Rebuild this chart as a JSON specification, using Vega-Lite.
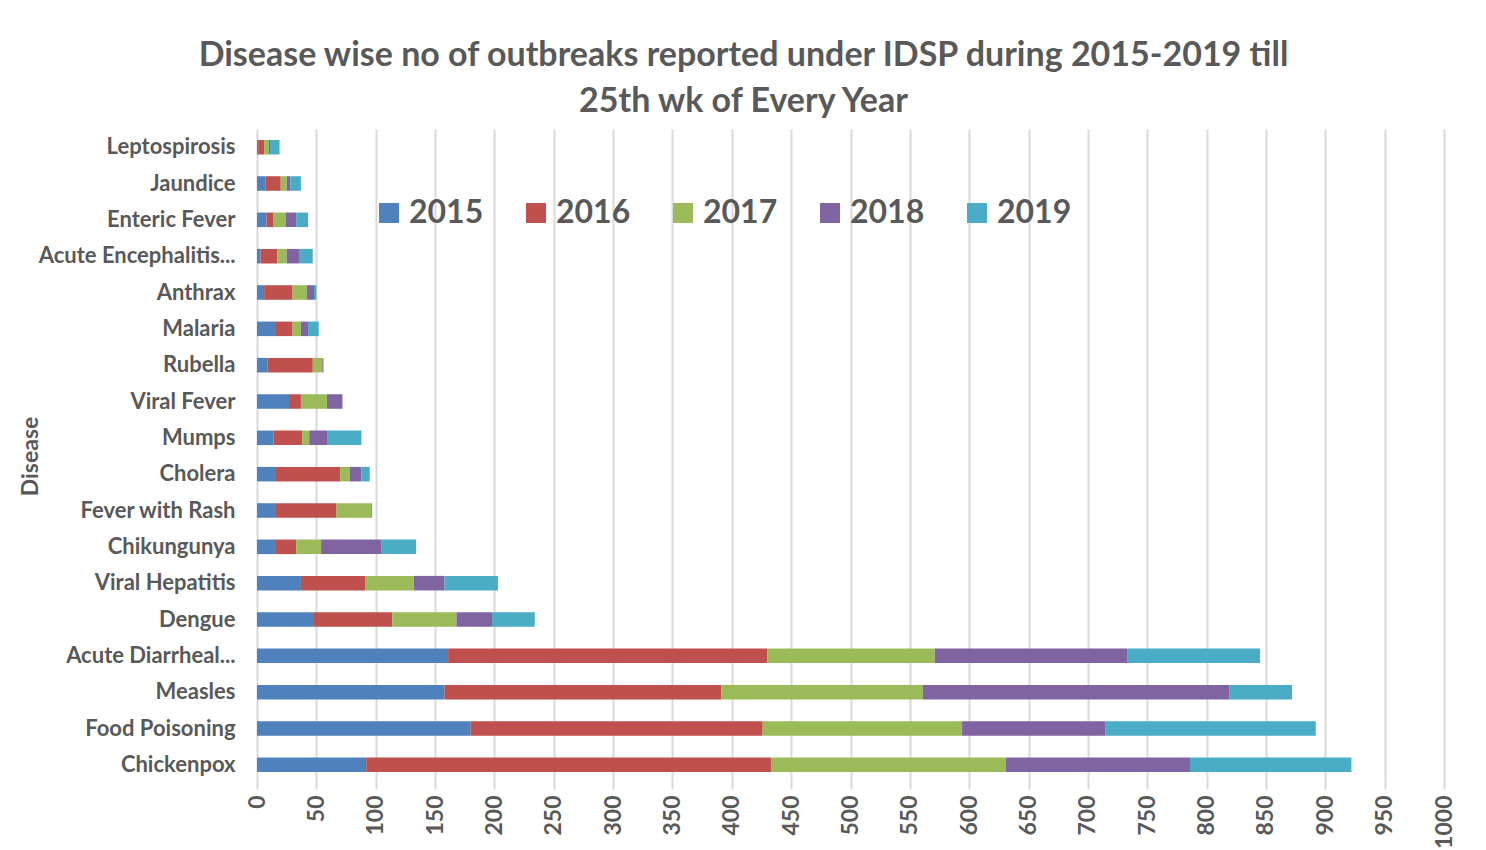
{
  "$schema": "https://vega.github.io/schema/vega-lite/v6.json",
  "autosize": {"type": "none"},
  "padding": {"left": 257, "top": 129, "right": 42, "bottom": 67},
  "width": 1187,
  "height": 654,
  "background": "white",
  "title": {
    "text": ["Disease wise no of outbreaks reported under IDSP during 2015-2019 till", "25th wk of Every Year"],
    "font": "Lato",
    "fontSize": 34,
    "fontWeight": "bold",
    "color": "#595959",
    "anchor": "middle",
    "dx": -107,
    "offset": 10,
    "lineHeight": 46
  },
  "data": {
    "values": [
      {"disease": "Leptospirosis", "year": "2015", "outbreaks": 1},
      {"disease": "Leptospirosis", "year": "2016", "outbreaks": 5},
      {"disease": "Leptospirosis", "year": "2017", "outbreaks": 4},
      {"disease": "Leptospirosis", "year": "2018", "outbreaks": 1},
      {"disease": "Leptospirosis", "year": "2019", "outbreaks": 8},
      {"disease": "Jaundice", "year": "2015", "outbreaks": 7},
      {"disease": "Jaundice", "year": "2016", "outbreaks": 13},
      {"disease": "Jaundice", "year": "2017", "outbreaks": 5},
      {"disease": "Jaundice", "year": "2018", "outbreaks": 3},
      {"disease": "Jaundice", "year": "2019", "outbreaks": 9},
      {"disease": "Enteric Fever", "year": "2015", "outbreaks": 8},
      {"disease": "Enteric Fever", "year": "2016", "outbreaks": 6},
      {"disease": "Enteric Fever", "year": "2017", "outbreaks": 10},
      {"disease": "Enteric Fever", "year": "2018", "outbreaks": 9},
      {"disease": "Enteric Fever", "year": "2019", "outbreaks": 10},
      {"disease": "Acute Encephalitis...", "year": "2015", "outbreaks": 3},
      {"disease": "Acute Encephalitis...", "year": "2016", "outbreaks": 14},
      {"disease": "Acute Encephalitis...", "year": "2017", "outbreaks": 8},
      {"disease": "Acute Encephalitis...", "year": "2018", "outbreaks": 11},
      {"disease": "Acute Encephalitis...", "year": "2019", "outbreaks": 11},
      {"disease": "Anthrax", "year": "2015", "outbreaks": 6},
      {"disease": "Anthrax", "year": "2016", "outbreaks": 24},
      {"disease": "Anthrax", "year": "2017", "outbreaks": 12},
      {"disease": "Anthrax", "year": "2018", "outbreaks": 6},
      {"disease": "Anthrax", "year": "2019", "outbreaks": 2},
      {"disease": "Malaria", "year": "2015", "outbreaks": 16},
      {"disease": "Malaria", "year": "2016", "outbreaks": 14},
      {"disease": "Malaria", "year": "2017", "outbreaks": 7},
      {"disease": "Malaria", "year": "2018", "outbreaks": 6},
      {"disease": "Malaria", "year": "2019", "outbreaks": 9},
      {"disease": "Rubella", "year": "2015", "outbreaks": 9},
      {"disease": "Rubella", "year": "2016", "outbreaks": 38},
      {"disease": "Rubella", "year": "2017", "outbreaks": 8},
      {"disease": "Rubella", "year": "2018", "outbreaks": 1},
      {"disease": "Rubella", "year": "2019", "outbreaks": 0},
      {"disease": "Viral Fever", "year": "2015", "outbreaks": 27},
      {"disease": "Viral Fever", "year": "2016", "outbreaks": 10},
      {"disease": "Viral Fever", "year": "2017", "outbreaks": 22},
      {"disease": "Viral Fever", "year": "2018", "outbreaks": 13},
      {"disease": "Viral Fever", "year": "2019", "outbreaks": 0},
      {"disease": "Mumps", "year": "2015", "outbreaks": 14},
      {"disease": "Mumps", "year": "2016", "outbreaks": 24},
      {"disease": "Mumps", "year": "2017", "outbreaks": 6},
      {"disease": "Mumps", "year": "2018", "outbreaks": 15},
      {"disease": "Mumps", "year": "2019", "outbreaks": 29},
      {"disease": "Cholera", "year": "2015", "outbreaks": 16},
      {"disease": "Cholera", "year": "2016", "outbreaks": 54},
      {"disease": "Cholera", "year": "2017", "outbreaks": 8},
      {"disease": "Cholera", "year": "2018", "outbreaks": 10},
      {"disease": "Cholera", "year": "2019", "outbreaks": 7},
      {"disease": "Fever with Rash", "year": "2015", "outbreaks": 16},
      {"disease": "Fever with Rash", "year": "2016", "outbreaks": 51},
      {"disease": "Fever with Rash", "year": "2017", "outbreaks": 29},
      {"disease": "Fever with Rash", "year": "2018", "outbreaks": 0},
      {"disease": "Fever with Rash", "year": "2019", "outbreaks": 1},
      {"disease": "Chikungunya", "year": "2015", "outbreaks": 16},
      {"disease": "Chikungunya", "year": "2016", "outbreaks": 17},
      {"disease": "Chikungunya", "year": "2017", "outbreaks": 21},
      {"disease": "Chikungunya", "year": "2018", "outbreaks": 51},
      {"disease": "Chikungunya", "year": "2019", "outbreaks": 29},
      {"disease": "Viral Hepatitis", "year": "2015", "outbreaks": 37},
      {"disease": "Viral Hepatitis", "year": "2016", "outbreaks": 54},
      {"disease": "Viral Hepatitis", "year": "2017", "outbreaks": 41},
      {"disease": "Viral Hepatitis", "year": "2018", "outbreaks": 26},
      {"disease": "Viral Hepatitis", "year": "2019", "outbreaks": 45},
      {"disease": "Dengue", "year": "2015", "outbreaks": 48},
      {"disease": "Dengue", "year": "2016", "outbreaks": 66},
      {"disease": "Dengue", "year": "2017", "outbreaks": 54},
      {"disease": "Dengue", "year": "2018", "outbreaks": 30},
      {"disease": "Dengue", "year": "2019", "outbreaks": 36},
      {"disease": "Acute Diarrheal...", "year": "2015", "outbreaks": 161},
      {"disease": "Acute Diarrheal...", "year": "2016", "outbreaks": 269},
      {"disease": "Acute Diarrheal...", "year": "2017", "outbreaks": 141},
      {"disease": "Acute Diarrheal...", "year": "2018", "outbreaks": 162},
      {"disease": "Acute Diarrheal...", "year": "2019", "outbreaks": 112},
      {"disease": "Measles", "year": "2015", "outbreaks": 158},
      {"disease": "Measles", "year": "2016", "outbreaks": 233},
      {"disease": "Measles", "year": "2017", "outbreaks": 170},
      {"disease": "Measles", "year": "2018", "outbreaks": 258},
      {"disease": "Measles", "year": "2019", "outbreaks": 53},
      {"disease": "Food Poisoning", "year": "2015", "outbreaks": 180},
      {"disease": "Food Poisoning", "year": "2016", "outbreaks": 246},
      {"disease": "Food Poisoning", "year": "2017", "outbreaks": 168},
      {"disease": "Food Poisoning", "year": "2018", "outbreaks": 121},
      {"disease": "Food Poisoning", "year": "2019", "outbreaks": 177},
      {"disease": "Chickenpox", "year": "2015", "outbreaks": 92},
      {"disease": "Chickenpox", "year": "2016", "outbreaks": 341},
      {"disease": "Chickenpox", "year": "2017", "outbreaks": 198},
      {"disease": "Chickenpox", "year": "2018", "outbreaks": 155},
      {"disease": "Chickenpox", "year": "2019", "outbreaks": 136}
    ]
  },
  "mark": {"type": "bar"},
  "encoding": {
    "y": {
      "field": "disease",
      "type": "nominal",
      "sort": ["Leptospirosis", "Jaundice", "Enteric Fever", "Acute Encephalitis...", "Anthrax", "Malaria", "Rubella", "Viral Fever", "Mumps", "Cholera", "Fever with Rash", "Chikungunya", "Viral Hepatitis", "Dengue", "Acute Diarrheal...", "Measles", "Food Poisoning", "Chickenpox"],
      "scale": {"paddingInner": 0.6, "paddingOuter": 0.3},
      "axis": {
        "title": "Disease",
        "titleFont": "Lato",
        "titleFontSize": 23,
        "titleFontWeight": "bold",
        "titleColor": "#595959",
        "titleX": -215,
        "labelFont": "Lato",
        "labelFontSize": 22,
        "labelFontWeight": "bold",
        "labelColor": "#595959",
        "labelPadding": 22,
        "labelLimit": 400,
        "ticks": false,
        "domain": false,
        "grid": false
      }
    },
    "x": {
      "field": "outbreaks",
      "type": "quantitative",
      "stack": "zero",
      "scale": {"domain": [0, 1000], "nice": false},
      "axis": {
        "title": null,
        "values": [0, 50, 100, 150, 200, 250, 300, 350, 400, 450, 500, 550, 600, 650, 700, 750, 800, 850, 900, 950, 1000],
        "format": "d",
        "labelAngle": -90,
        "labelFont": "Lato",
        "labelFontSize": 23,
        "labelFontWeight": "bold",
        "labelColor": "#595959",
        "labelPadding": 6,
        "labelOverlap": false,
        "labelFlush": false,
        "tickSize": 6,
        "tickColor": "#d9d9d9",
        "tickWidth": 2,
        "domain": false,
        "grid": true,
        "gridColor": "#d9d9d9",
        "gridWidth": 2
      }
    },
    "color": {
      "field": "year",
      "type": "nominal",
      "scale": {
        "domain": ["2015", "2016", "2017", "2018", "2019"],
        "range": ["#4F81BD", "#C0504D", "#9BBB59", "#8064A2", "#4BACC6"]
      },
      "legend": {
        "title": null,
        "orient": "none",
        "direction": "horizontal",
        "legendX": 116,
        "legendY": 68,
        "symbolType": "square",
        "symbolSize": 400,
        "symbolStrokeWidth": 0,
        "symbolOpacity": 1,
        "labelFont": "Lato",
        "labelFontSize": 32,
        "labelFontWeight": "bold",
        "labelColor": "#595959",
        "labelOffset": 4,
        "columnPadding": 36
      }
    },
    "order": {"field": "year", "type": "ordinal", "sort": "ascending"}
  },
  "config": {
    "view": {"stroke": null}
  }
}
